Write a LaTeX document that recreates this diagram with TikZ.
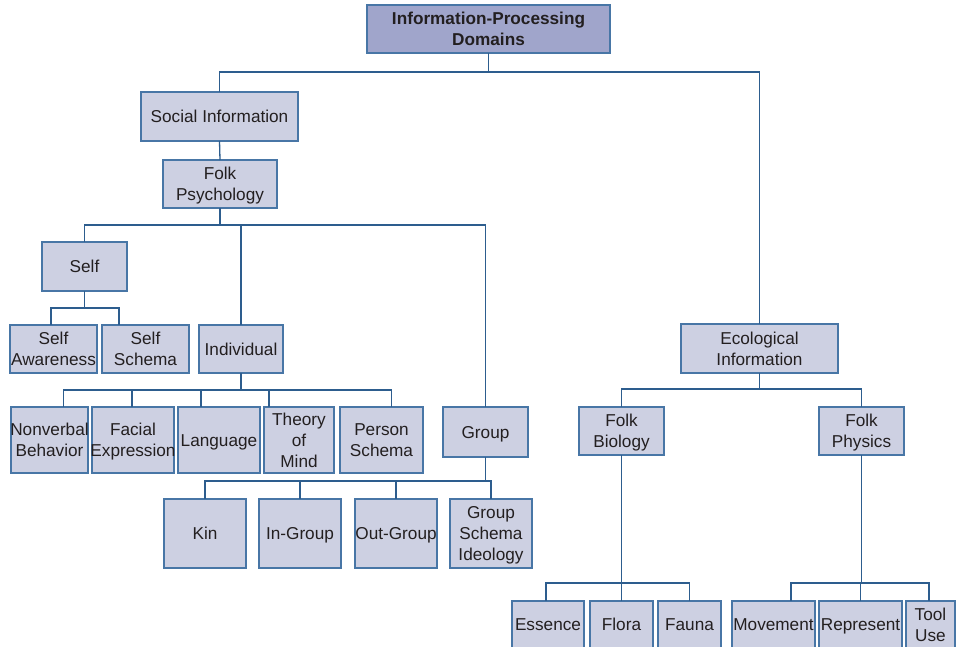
\documentclass[tikz,border=0pt]{standalone}
\usepackage{fontspec}
\setmainfont{Liberation Sans}
\definecolor{boxfill}{RGB}{205,208,226}
\definecolor{topfill}{RGB}{160,165,203}
\definecolor{boxline}{RGB}{72,118,166}
\definecolor{connline}{RGB}{45,93,142}
\definecolor{txtcol}{RGB}{35,31,32}
\newcommand{\mystrut}{\rule[-4.35pt]{0pt}{21pt}}
\tikzset{
  box/.style={draw=boxline, fill=boxfill, line width=1.5pt, inner sep=0pt, outer sep=0pt, rectangle},
  topbox/.style={box, fill=topfill},
  txt/.style={align=center, inner sep=0pt, text=txtcol, font=\fontsize{17.2}{21}\selectfont},
  conn/.style={draw=connline, line width=1.3pt},
}
\newcommand{\bx}[7][box]{%
  \node[#1, minimum width={(#5)-(#3)}, minimum height={(#6)-(#4)}] (#2) at ({(#3+#5)/2},{(#4+#6)/2}) {};
  \node[txt] at (#2.center) {\mystrut#7\mystrut};}
\begin{document}
\begin{tikzpicture}[x=1pt,y=-1pt]
\useasboundingbox (0,0) rectangle (957,646);
\clip (0,0) rectangle (957,646);
\fill[white] (0,0) rectangle (957,646);
% bus levels
\coordinate (ytop) at (0,72);
\coordinate (yfolk) at (0,225);
\coordinate (yself) at (0,308);
\coordinate (yind) at (0,390);
\coordinate (ygrp) at (0,481);
\coordinate (yeco) at (0,389);
\coordinate (yleaf) at (0,583);
% boxes
\bx[topbox]{top}{367}{5}{610}{53}{\bfseries Information-Processing\\\bfseries Domains}
\bx{social}{141}{92}{298}{141}{Social Information}
\bx{folk}{163}{160}{277}{208}{Folk\\Psychology}
\bx{self}{42}{242}{127}{291}{Self}
\bx{saw}{10}{325}{97}{373}{Self\\Awareness}
\bx{ssc}{102}{325}{189}{373}{Self\\Schema}
\bx{indiv}{199}{325}{283}{373}{Individual}
\bx{nonv}{11}{407}{88}{473}{Nonverbal\\Behavior}
\bx{facial}{92}{407}{174}{473}{Facial\\Expression}
\bx{lang}{178}{407}{260}{473}{Language}
\bx{theory}{264}{407}{334}{473}{Theory\\of\\Mind}
\bx{person}{340}{407}{423}{473}{Person\\Schema}
\bx{group}{443}{407}{528}{457}{Group}
\bx{kin}{164}{499}{246}{568}{Kin}
\bx{ingroup}{259}{499}{341}{568}{In-Group}
\bx{outgroup}{355}{499}{437}{568}{Out-Group}
\bx{gschema}{450}{499}{532}{568}{Group\\Schema\\Ideology}
\bx{eco}{681}{324}{838}{373}{Ecological\\Information}
\bx{fbio}{579}{407}{664}{455}{Folk\\Biology}
\bx{fphys}{819}{407}{904}{455}{Folk\\Physics}
\bx{essence}{512}{601}{584}{648}{Essence}
\bx{flora}{590}{601}{653}{648}{Flora}
\bx{fauna}{658}{601}{721}{648}{Fauna}
\bx{move}{732}{601}{815}{648}{Movement}
\bx{repr}{819}{601}{902}{648}{Represent}
\bx{tool}{906}{601}{955}{648}{Tool\\Use}
% top level
\draw[conn] (top.south) -- (top.south |- ytop) -| (social.north);
\draw[conn] (top.south |- ytop) -| (eco.north);
\draw[conn] (social.south) -- (folk.north);
% folk psychology
\draw[conn] (folk.south) -- (folk.south |- yfolk) -| (self.north);
\draw[conn] (folk.south |- yfolk) -| (group.north);
\draw[conn] (folk.south |- yfolk) -| (indiv.north);
% self
\draw[conn] (self.south) -- (self.south |- yself) -| (saw.north -| 51,0);
\draw[conn] (self.south |- yself) -| (ssc.north -| 119,0);
% individual
\draw[conn] (indiv.south) -- (indiv.south |- yind) -| (nonv.north -| 63.7,0);
\draw[conn] (indiv.south |- yind) -| (facial.north -| 132,0);
\draw[conn] (indiv.south |- yind) -| (lang.north -| 201,0);
\draw[conn] (indiv.south |- yind) -| (theory.north -| 269,0);
\draw[conn] (indiv.south |- yind) -| (person.north -| 391.5,0);
% group
\draw[conn] (group.south) -- (group.south |- ygrp) -| (kin.north);
\draw[conn] (group.south |- ygrp) -| (ingroup.north);
\draw[conn] (group.south |- ygrp) -| (outgroup.north);
\draw[conn] (group.south |- ygrp) -| (gschema.north);
% ecological
\draw[conn] (eco.south) -- (eco.south |- yeco) -| (fbio.north);
\draw[conn] (eco.south |- yeco) -| (fphys.north);
% folk biology
\draw[conn] (fbio.south) -- (fbio.south |- yleaf) -| (essence.north -| 546,0);
\draw[conn] (fbio.south |- yleaf) -| (flora.north);
\draw[conn] (fbio.south |- yleaf) -| (fauna.north);
% folk physics
\draw[conn] (fphys.south) -- (fphys.south |- yleaf) -| (move.north -| 791,0);
\draw[conn] (fphys.south |- yleaf) -| (repr.north);
\draw[conn] (fphys.south |- yleaf) -| (tool.north -| 929,0);
\end{tikzpicture}
\end{document}
